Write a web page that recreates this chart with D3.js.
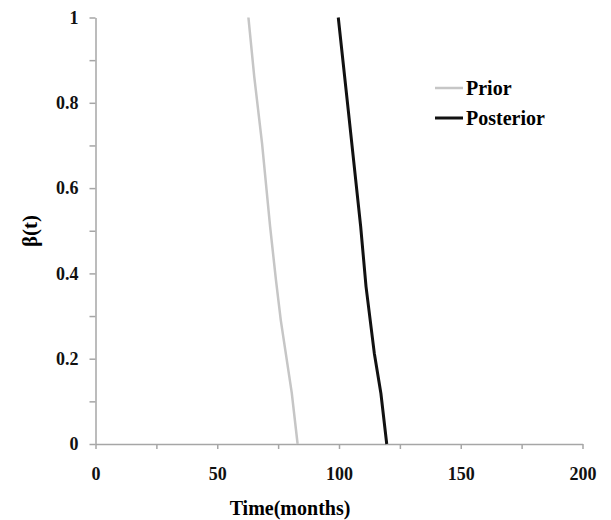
<!DOCTYPE html>
<html>
<head>
<meta charset="utf-8">
<script src="https://cdn.jsdelivr.net/npm/d3@7"></script>
<style>
  body { margin: 0; background: #fff; }
  text { font-family: "Liberation Serif", "Times New Roman", serif; font-weight: bold; }
</style>
</head>
<body>
<div id="canvas"></div>
<script>
"use strict"

// DATA

let priorTime = [62.8, 65.2, 68.4, 71.7, 74.1, 76.1, 80.6, 83.0];
let priorBeta = [1.0, 0.861, 0.705, 0.51, 0.385, 0.29, 0.12, 0];

let postTime = [99.7, 103.8, 108.9, 111.1, 114.5, 117.2, 119.6];
let postBeta = [1.0, 0.783, 0.51, 0.369, 0.213, 0.119, 0];

let xTicks = [0, 25, 50, 75, 100, 125, 150, 175, 200];
let yTicks = [0, 0.1, 0.2, 0.3, 0.4, 0.5, 0.6, 0.7, 0.8, 0.9, 1];

let seriesNames = ["Prior", "Posterior"];
let seriesColors = ["#c6c6c6", "#111111"];


// CONFIGURATION

let svgWidth = 611;
let svgHeight = 520;
let plot = { left: 95.5, right: 582.5, top: 17.5, bottom: 444 };
let axisColor = "#a6a6a6";


// CREATE SVG

let svg = d3.select("#canvas")
    .append("svg")
    .attr("width", svgWidth)
    .attr("height", svgHeight);


// SCALES

let xScale = d3.scaleLinear()
    .domain([0, 200])
    .range([plot.left, plot.right]);

let yScale = d3.scaleLinear()
    .domain([0, 1])
    .range([plot.bottom, plot.top]);


// AXES

let xAxis = d3.axisBottom(xScale)
    .tickValues(xTicks)
    .tickSize(5)
    .tickSizeOuter(0)
    .tickFormat(function(d) { return d % 50 === 0 ? d : ""; });

let gx = svg.append("g")
    .attr("transform", "translate(0," + plot.bottom + ")")
    .call(xAxis);

gx.selectAll("text")
    .attr("y", 36)
    .attr("dy", 0)
    .style("font-size", "18px")
    .attr("fill", "#111");

let yAxis = d3.axisLeft(yScale)
    .tickValues(yTicks)
    .tickSize(6)
    .tickSizeOuter(0)
    .tickFormat(function(d) {
        return Math.round(d * 10) % 2 === 0 ? d3.format("~g")(d) : "";
    });

let gy = svg.append("g")
    .attr("transform", "translate(" + plot.left + ",0)")
    .call(yAxis);

gy.selectAll("text")
    .attr("x", -17)
    .style("font-size", "18px")
    .attr("fill", "#111");

svg.selectAll(".domain, .tick line")
    .attr("stroke", axisColor)
    .attr("stroke-width", 1.5);


// LINES

let line = d3.line()
    .x(function(d) { return xScale(d[0]); })
    .y(function(d) { return yScale(d[1]); });

let series = [
    d3.zip(priorTime, priorBeta),
    d3.zip(postTime, postBeta)
];

svg.selectAll("path.series")
    .data(series)
    .join("path")
    .attr("class", "series")
    .attr("fill", "none")
    .attr("stroke", function(d, i) { return seriesColors[i]; })
    .attr("stroke-width", function(d, i) { return i === 0 ? 2.5 : 3; })
    .attr("stroke-linejoin", "round")
    .attr("d", line);


// AXIS LABELS

svg.append("text")
    .attr("x", 290)
    .attr("y", 515)
    .attr("text-anchor", "middle")
    .style("font-size", "20px")
    .text("Time(months)");

svg.append("text")
    .attr("transform", "translate(37,231) rotate(-90)")
    .attr("text-anchor", "middle")
    .style("font-size", "21px")
    .text("β(t)");


// LEGEND

let legend = svg.selectAll("g.legend")
    .data(seriesNames)
    .join("g")
    .attr("class", "legend")
    .attr("transform", function(d, i) { return "translate(435," + (88 + i * 30) + ")"; });

legend.append("line")
    .attr("x1", 0)
    .attr("x2", 28)
    .attr("stroke", function(d, i) { return seriesColors[i]; })
    .attr("stroke-width", function(d, i) { return i === 0 ? 2.5 : 3; });

legend.append("text")
    .attr("x", 31)
    .attr("y", 7)
    .style("font-size", "20px")
    .text(function(d) { return d; });
</script>
</body>
</html>
